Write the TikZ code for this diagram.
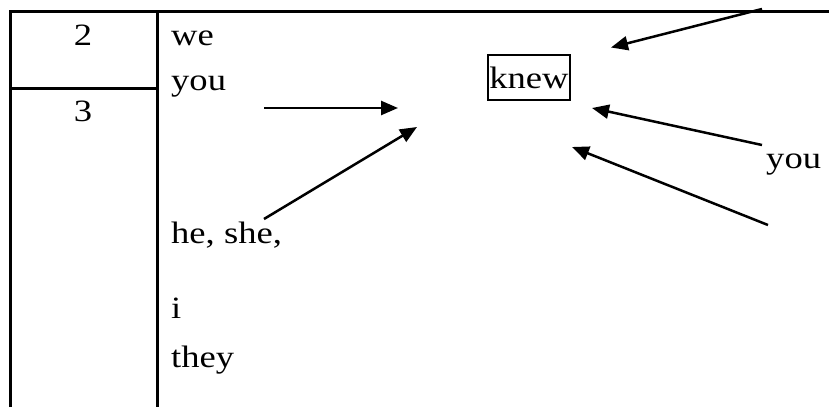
\documentclass[tikz,border=0pt]{standalone}
\usepackage{fontspec}
\setmainfont[FakeStretch=1.18]{Liberation Serif}
\usetikzlibrary{arrows.meta}
\begin{document}
\begin{tikzpicture}[x=1pt,y=-1pt,
  rule/.style={line width=3pt},
  arr/.style={line width=2.5pt,-{Triangle[length=17pt,width=14pt]}},
  word/.style={inner sep=0pt,anchor=base west,font=\fontsize{31}{36}\selectfont},
  num/.style={inner sep=0pt,anchor=base,font=\fontsize{31}{36}\selectfont},
  boxed/.style={draw,line width=2.5pt,inner sep=0pt,minimum width=82pt,minimum height=45pt,font=\fontsize{31}{36}\selectfont}]
\useasboundingbox (0,0) rectangle (829,407);
% table rules
\coordinate (tl) at (10,11);
\coordinate (tr) at (829,11);
\coordinate (bl) at (10,407);
\coordinate (mt) at (157,11);
\coordinate (mb) at (157,407);
\coordinate (dl) at (10,88);
\coordinate (dr) at (157,88);
\draw[rule] (bl) -- (tl) -- (tr);
\draw[rule] (mt) -- (mb);
\draw[rule] (dl) -- (dr);
% numbers
\node[num] (n2) at (83,45) {2};
\node[num] (n3) at (83,121) {3};
% words
\node[word] (we) at (171,45) {we};
\node[word] (you1) at (171,90) {you};
\node[word] (heshe) at (171,243) {he, she,};
\node[word] (i) at (171,318) {i};
\node[word] (they) at (171,367) {they};
\node[word] (you2) at (766,168) {you};
\node[boxed] (knew) at (529,77.5) {knew};
% arrow ends
\coordinate (a1s) at (264,108);
\coordinate (a1e) at (398,108);
\coordinate (a2s) at (264,219);
\coordinate (a2e) at (417,127);
\coordinate (a3s) at (762,9);
\coordinate (a3e) at (611,47.5);
\coordinate (a4s) at (762,145);
\coordinate (a4e) at (592,108);
\coordinate (a5s) at (768,225);
\coordinate (a5e) at (572,147);
\draw[arr] (a1s) -- (a1e);
\draw[arr] (a2s) -- (a2e);
\draw[arr] (a3s) -- (a3e);
\draw[arr] (a4s) -- (a4e);
\draw[arr] (a5s) -- (a5e);
\end{tikzpicture}
\end{document}
